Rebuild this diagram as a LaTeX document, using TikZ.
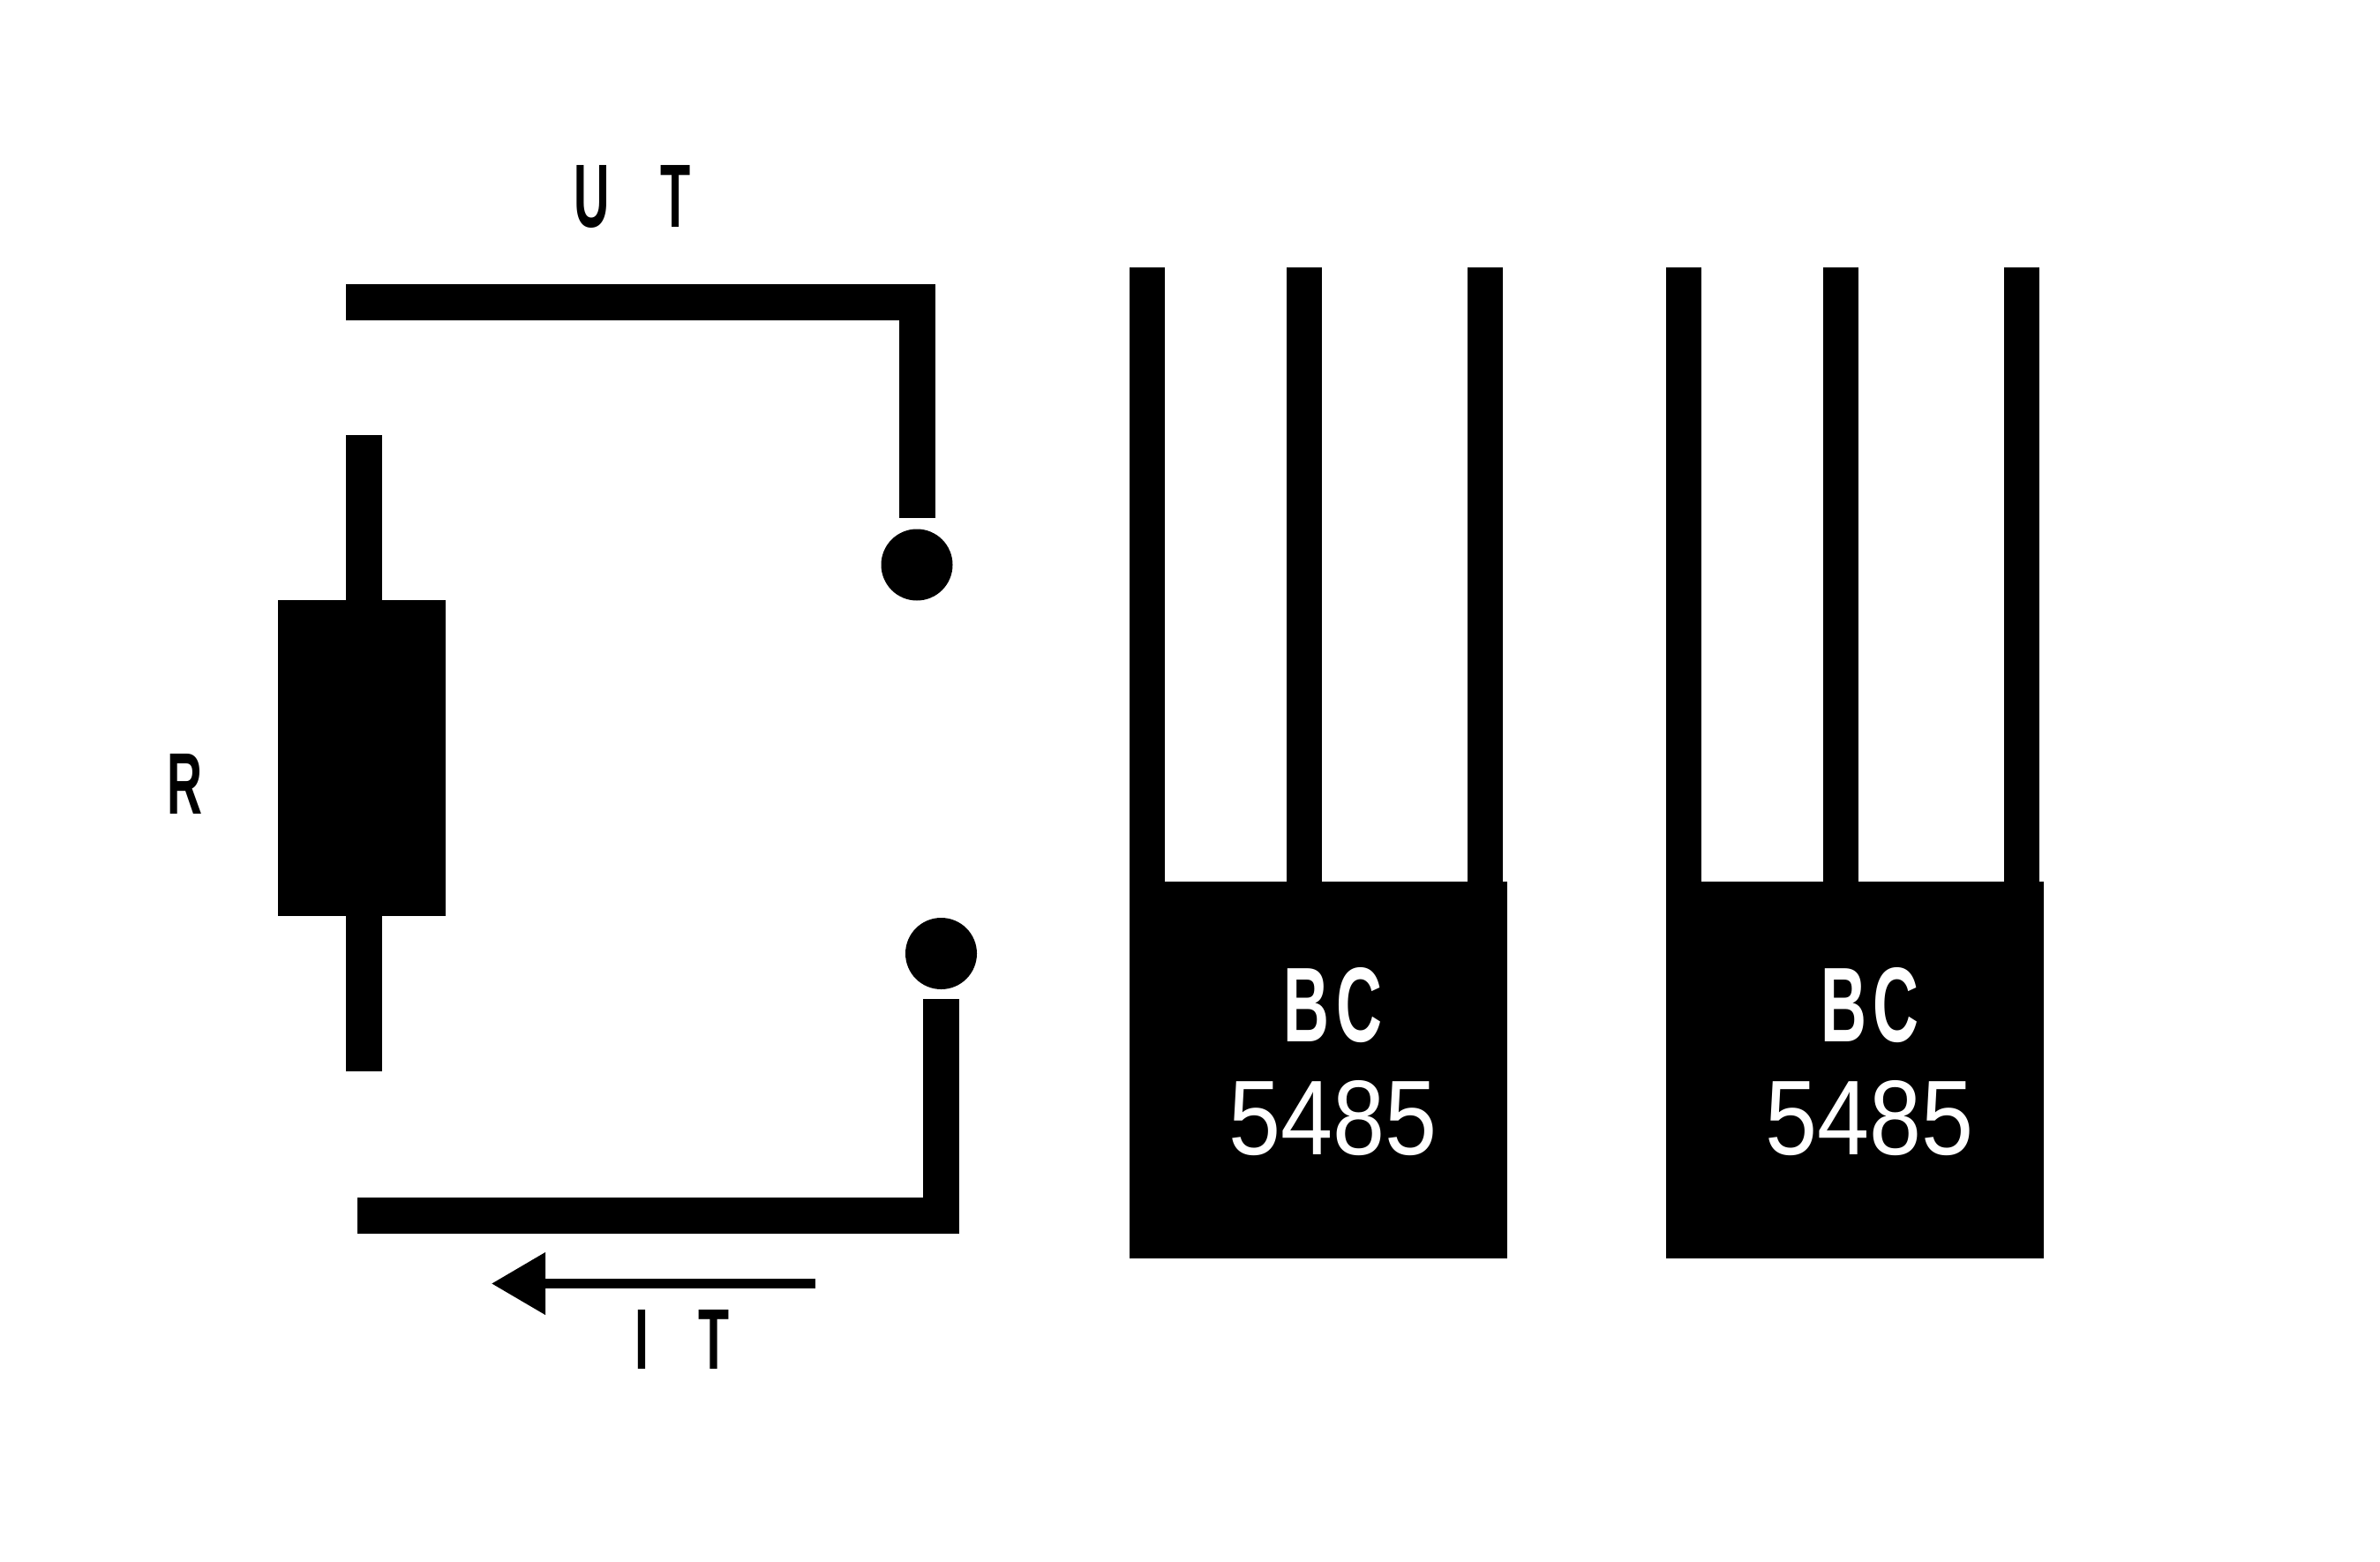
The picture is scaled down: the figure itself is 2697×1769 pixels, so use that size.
\documentclass[tikz,border=0pt]{standalone}
\usepackage{graphicx}
\usepackage{fontspec}
\setmainfont{Liberation Sans}
\usetikzlibrary{arrows.meta}
\newcommand{\fitlabel}[3]{\resizebox{#1pt}{#2pt}{#3}}
\tikzset{
  wire/.style={line width=41pt,line cap=butt,line join=miter,draw=black},
  leadline/.style={line width=40pt,line cap=butt,draw=black},
  term/.style={circle,fill=black,draw=none,inner sep=0pt,minimum size=81pt},
  body/.style={rectangle,fill=black,draw=none,inner sep=0pt},
  caseblock/.style={body,minimum width=428pt,minimum height=427pt},
  lbl/.style={inner sep=0pt,outer sep=0pt,text=black},
  marking/.style={inner sep=0pt,outer sep=0pt,text=white},
  currentarrow/.style={line width=11pt,draw=black,-{Triangle[length=61pt,width=68pt]}}
}
\begin{document}
\begin{tikzpicture}[x=1pt,y=-1pt]
\useasboundingbox[fill=white] (0,0) rectangle (2697,1769);

% resistor
\node[body,minimum width=190pt,minimum height=358pt] (res) at (410,859) {};
\coordinate (resTop) at (412.5,493);
\coordinate (resBot) at (412.5,1214);
\draw[wire] (resTop) -- (resTop |- res.north);
\draw[wire] (resBot) -- (resBot |- res.south);

% terminals and wires
\node[term] (dotA) at (1039,640) {};
\node[term] (dotB) at (1066.5,1080.5) {};
\coordinate (wireAstart) at (392,342);
\coordinate (wireBstart) at (405,1377.5);
\draw[wire] (wireAstart) -| ([yshift=12pt]dotA.north);
\draw[wire] (wireBstart) -| ([yshift=-11pt]dotB.south);

% current arrow
\coordinate (arrowFrom) at (924,1454.5);
\coordinate (arrowTo) at (557,1454.5);
\draw[currentarrow] (arrowFrom) -- (arrowTo);

% labels
\node[lbl] (labelU) at (716.2,223) {\fitlabel{132}{70}{\bfseries U\ \hspace{7.5pt}T}};
\node[lbl] (labelI) at (772.7,1517.5) {\fitlabel{107}{67}{\bfseries I\ \hspace{7pt}T}};
\node[lbl] (labelR) at (209.5,888) {\fitlabel{40}{68}{\bfseries R}};

% transistor 1
\node[caseblock] (qa) at (1494,1212.5) {};
\coordinate (qaE) at (1300,303);
\coordinate (qaB) at (1478,303);
\coordinate (qaC) at (1682.5,303);
\draw[leadline] (qaE) -- (qaE |- qa.north);
\draw[leadline] (qaB) -- (qaB |- qa.north);
\draw[leadline] (qaC) -- (qaC |- qa.north);
\node[marking] (qaTop) at (1510.5,1139) {\fitlabel{111}{84}{\bfseries B\hspace{1pt}C}};
\node[marking] (qaNum) at (1510.5,1267) {\fitlabel{236}{84}{5485}};

% transistor 2
\node[caseblock] (qb) at (2102,1212.5) {};
\coordinate (qbE) at (1908,303);
\coordinate (qbB) at (2086,303);
\coordinate (qbC) at (2291,303);
\draw[leadline] (qbE) -- (qbE |- qb.north);
\draw[leadline] (qbB) -- (qbB |- qb.north);
\draw[leadline] (qbC) -- (qbC |- qb.north);
\node[marking] (qbTop) at (2118.5,1139) {\fitlabel{111}{84}{\bfseries B\hspace{1pt}C}};
\node[marking] (qbNum) at (2118.5,1267) {\fitlabel{236}{84}{5485}};
\end{tikzpicture}
\end{document}
